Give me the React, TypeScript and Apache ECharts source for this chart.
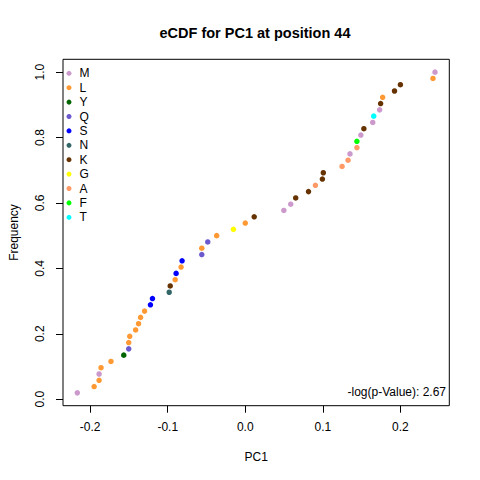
import React, { useEffect, useRef } from "react";
import * as echarts from "echarts";

// PC1 values (sorted) and residue at each observation
const pc1Values = [
  -0.2166, -0.1949, -0.1885, -0.1885, -0.186, -0.1732, -0.1567, -0.1503, -0.1503, -0.149,
  -0.1414, -0.1376, -0.135, -0.1299, -0.1223, -0.1197, -0.0981, -0.0968, -0.0904, -0.0892,
  -0.0828, -0.0815, -0.0561, -0.0561, -0.0484, -0.0369, -0.0153, 0.0, 0.0115, 0.0497,
  0.0586, 0.065, 0.0815, 0.0904, 0.0994, 0.1006, 0.1248, 0.1325, 0.135, 0.1439,
  0.1439, 0.149, 0.1529, 0.1643, 0.1656, 0.1732, 0.1745, 0.1771, 0.1924, 0.2,
  0.242, 0.2446,
];
const residues = [
  "M", "L", "L", "M", "L", "L", "Y", "Q", "L", "L",
  "L", "L", "L", "L", "S", "S", "N", "K", "L", "S",
  "L", "S", "Q", "L", "Q", "L", "G", "L", "K", "M",
  "M", "K", "K", "A", "K", "K", "A", "A", "M", "A",
  "F", "M", "K", "M", "T", "M", "K", "L", "K", "K",
  "L", "M",
];
const legendResidues = ["M", "L", "Y", "Q", "S", "N", "K", "G", "A", "F", "T"];
const residueColors = [
  "#CC99CC", "#FF9933", "#006400", "#6A5ACD", "#0000FF", "#336666",
  "#663300", "#FFFF00", "#FF9966", "#00FF00", "#00FFFF",
];
const xTicks = [-0.2, -0.1, 0.0, 0.1, 0.2];
const yTicks = [0.0, 0.2, 0.4, 0.6, 0.8, 1.0];
const titleText = "eCDF for PC1 at position 44";
const pValueText = "-log(p-Value): 2.67";

const FONT = "Liberation Sans, Arial, sans-serif";

function rRange(vals: number[]): [number, number] {
  const lo = Math.min(...vals);
  const hi = Math.max(...vals);
  const ext = (hi - lo) * 0.04;
  return [lo - ext, hi + ext];
}

export default function App() {
  const ref = useRef<HTMLDivElement>(null);
  useEffect(() => {
    if (!ref.current) return;
    const chart = echarts.init(ref.current, undefined, { renderer: "svg" });
    const n = pc1Values.length;
    const freq = pc1Values.map((_, i) => (i + 1) / n);
    const [xMin, xMax] = rRange(pc1Values);
    const [yMin, yMax] = rRange(freq);

    const series = legendResidues.map((r, k) => ({
      name: r,
      type: "scatter",
      symbol: "circle",
      symbolSize: 5.5,
      itemStyle: { color: residueColors[k], opacity: 1 },
      data: pc1Values
        .map((v, i) => (residues[i] === r ? [v, freq[i]] : null))
        .filter((d) => d !== null),
    }));

    chart.setOption({
      animation: false,
      textStyle: { fontFamily: FONT },
      title: {
        text: titleText,
        left: 250,
        textAlign: "center",
        top: 20,
        textStyle: { fontSize: 14.5, fontWeight: "bold", color: "#000", fontFamily: FONT },
      },
      grid: {
        left: 59.3,
        top: 59.3,
        right: 30.7,
        bottom: 74.3,
        show: true,
        borderColor: "#000",
        borderWidth: 1,
        backgroundColor: "transparent",
      },
      legend: {
        orient: "vertical",
        left: 66.5,
        top: 66.3,
        padding: 0,
        itemWidth: 5,
        itemHeight: 5,
        itemGap: 0.4,
        icon: "circle",
        data: legendResidues,
        textStyle: { fontSize: 12, color: "#000", lineHeight: 14, padding: [0, 0, 0, 3], fontFamily: FONT },
      },
      xAxis: {
        type: "value",
        min: xMin,
        max: xMax,
        name: "PC1",
        nameLocation: "middle",
        nameGap: 45,
        nameTextStyle: { fontSize: 12, color: "#000", fontFamily: FONT },
        axisLine: { show: false, onZero: false },
        splitLine: { show: false },
        axisTick: {
          show: true,
          inside: false,
          length: 7,
          customValues: xTicks,
          lineStyle: { color: "#000", width: 1 },
        },
        axisLabel: {
          customValues: xTicks,
          margin: 15,
          fontSize: 12,
          color: "#000",
          fontFamily: FONT,
          formatter: (v: number) => v.toFixed(1),
        },
      },
      yAxis: {
        type: "value",
        min: yMin,
        max: yMax,
        name: "Frequency",
        nameLocation: "middle",
        nameGap: 43,
        nameTextStyle: { fontSize: 12, color: "#000", fontFamily: FONT },
        axisLine: { show: false, onZero: false },
        splitLine: { show: false },
        axisTick: {
          show: true,
          inside: false,
          length: 7,
          customValues: yTicks,
          lineStyle: { color: "#000", width: 1 },
        },
        axisLabel: {
          customValues: yTicks,
          rotate: 90,
          margin: 17,
          fontSize: 12,
          color: "#000",
          fontFamily: FONT,
          formatter: (v: number) => v.toFixed(1),
        },
      },
      graphic: [
        {
          type: "text",
          right: 34,
          top: 386,
          style: { text: pValueText, fontSize: 12, fill: "#000", fontFamily: FONT },
        },
      ],
      series,
    });
    return () => chart.dispose();
  }, []);
  return (
    <div
      ref={ref}
      style={{ position: "fixed", left: 0, top: 0, width: 480, height: 480, background: "#fff" }}
    />
  );
}
